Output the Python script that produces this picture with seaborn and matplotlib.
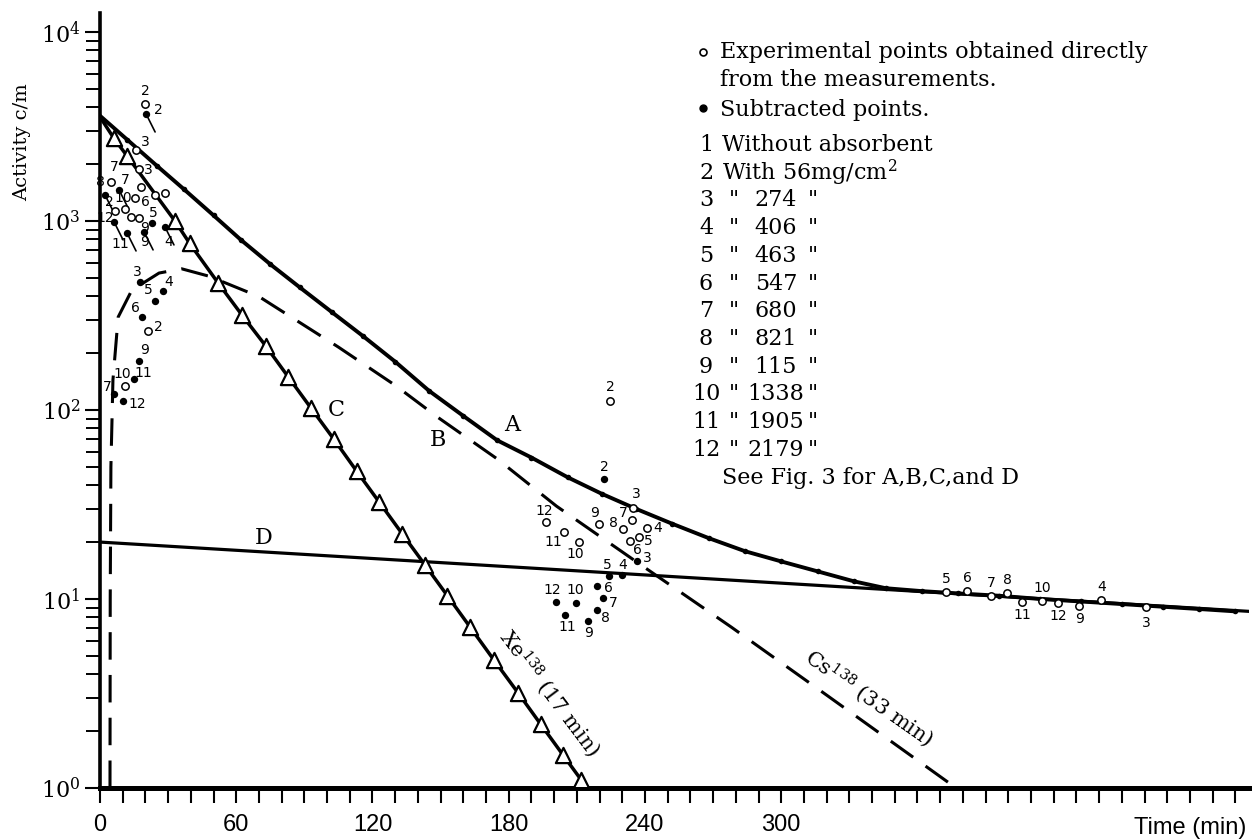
import matplotlib
matplotlib.use("Agg")
import numpy as np
import pandas as pd
import matplotlib.pyplot as plt
import seaborn as sns
from matplotlib.ticker import FixedLocator, FixedFormatter, NullFormatter

sns.set_theme(style="ticks")
plt.rcParams['font.family'] = ['DejaVu Serif']
plt.rcParams['mathtext.fontset'] = 'dejavuserif'
for key in ['text.color', 'axes.edgecolor', 'xtick.color', 'ytick.color',
            'axes.labelcolor', 'xtick.labelcolor', 'ytick.labelcolor']:
    plt.rcParams[key] = 'black'

# ---------------- data ----------------
# curve A : total activity (solid, with measured points)
A_t = [0, 12, 25, 37, 50, 62, 75, 88, 102, 116, 130, 145, 160, 175, 190, 206, 221,
       236, 252, 268, 284, 300, 316, 332, 346, 362, 378, 396, 414, 432, 450, 468, 484, 500]
A_v = [3600, 2690, 1960, 1470, 1070, 795, 590, 445, 330, 245, 180, 126, 93, 69, 56, 44, 36,
       30, 25, 21, 17.9, 15.8, 14.0, 12.4, 11.4, 11.0, 10.7, 10.4, 10.0, 9.7, 9.4, 9.1, 8.85, 8.6]

# curve B : Cs138 (33 min), dashed
B_t = [4.4, 4.5, 4.8, 5.7, 8, 14, 26, 36, 48, 70, 105, 130, 149, 175, 201, 237, 278, 320, 377]
B_v = [1.0, 10, 50, 144, 310, 430, 530, 558, 510, 398, 215, 135, 91, 55, 31, 15.5, 7.1, 3.1, 1.0]

# curve C : Xe138 (17 min), line start + triangles
C_t = [0, 6, 12, 33, 39.5, 52, 62.5, 73, 83, 93, 103, 113, 123, 133, 143, 153, 163,
       173.5, 184, 194, 204, 212]
C_v = [3550, 2750, 2200, 1000, 760, 470, 318, 218, 149, 102, 70, 47.5, 32.5, 22.2, 15.2,
       10.4, 7.1, 4.75, 3.2, 2.18, 1.49, 1.1]

# curve D : long-lived background
D_t = [0, 506]
D_v = [20, 8.6]

# experimental points obtained directly (open circles)
open_t = [19.8, 15.9, 17.2, 4.8, 18.1, 24.2, 28.6, 15.4, 6.6, 11.0, 13.7, 17.2, 21.1, 11.0,
          224.7, 234.8, 196.5, 219.8, 234.4, 230.4, 241.0, 204.4, 211.0, 237.4, 233.5,
          372.7, 381.9, 392.5, 399.6, 406.2, 415.0, 422.0, 431.3, 441.0, 460.8]
open_v = [4160, 2375, 1884, 1608, 1513, 1373, 1407, 1324, 1129, 1156, 1050, 1038, 262, 134,
          112, 30.3, 25.5, 24.9, 26.2, 23.5, 23.8, 22.6, 20.0, 21.3, 20.3,
          10.9, 11.0, 10.4, 10.8, 9.6, 9.75, 9.5, 9.2, 9.9, 9.1]
open_lab = ["2", "3", "3", "8", "", "", "", "10", "12", "", "", "5", "2", "10",
            "2", "3", "12", "9", "7", "8", "4", "11", "10", "5", "6",
            "5", "6", "7", "8", "11", "10", "12", "9", "4", "3"]

# subtracted points (filled dots)
fill_t = [20.3, 8.4, 2.2, 6.2, 22.9, 28.6, 11.9, 19.4,
          17.6, 27.8, 24.2, 18.5, 17.2, 15.0, 6.2, 10.1,
          222.0, 236.3, 224.2, 230.0, 200.9, 209.7, 219.0, 221.6, 219.0, 204.8, 215.0]
fill_v = [3681, 1459, 1373, 988, 976, 930, 864, 875,
          476, 426, 378, 310, 182, 146, 122, 112,
          43.1, 15.9, 13.2, 13.4, 9.6, 9.5, 11.7, 10.1, 8.7, 8.2, 7.65]
fill_lab = ["2", "7", "2", "", "9", "4", "11", "9",
            "3", "4", "5", "6", "9", "11", "7", "12",
            "2", "3", "5", "4", "12", "10", "6", "7", "8", "11", "9"]

# legend content
absorber_id = ["1", "2", "3", "4", "5", "6", "7", "8", "9", "10", "11", "12"]
absorber_txt = ["Without absorbent", "With 56mg/cm$^2$", "274", "406", "463", "547",
                "680", "821", "115", "1338", "1905", "2179"]
x_ticklabels = ["0", "60", "120", "180", "240", "300"]

# ---------------- styling helpers (offsets in pixels) ----------------
open_off = [(0, 13), (9, 8), (9, -1), (-10, 0), (0, 0), (0, 0), (0, 0), (-12, 0), (-10, -7),
            (0, 0), (0, 0), (14, 5), (10, 4), (-3, 12),
            (0, 14), (3, 14), (-2, 11), (-5, 11), (-9, 7), (-10, 6), (10, 0), (-11, -10),
            (-4, -12), (9, -4), (7, -9),
            (0, 13), (0, 13), (0, 13), (0, 13), (0, -13), (0, 13), (0, -13), (0, -13),
            (0, 13), (0, -16)]
fill_off = [(12, 4), (6, 10), (4, -7), (0, 0), (-7, -5), (4, -15), (-7, -11), (1, -10),
            (-3, 10), (6, 9), (-7, 11), (-7, 9), (6, 11), (9, 6), (-7, 7), (14, -3),
            (0, 12), (11, 3), (-2, 11), (0, 10), (-4, 12), (-1, 13), (11, -2), (10, -5),
            (8, -8), (2, -12), (0, -12)]
fill_tail = [0, 1, 2, 3, 5, 6, 7]

W, H = 1252, 839
def fx(px): return px / W
def fy(py): return 1 - py / H

fig = plt.figure(figsize=(12.52, 8.39), dpi=100)
ax = fig.add_axes([fx(100), fy(788), fx(1249) - fx(100), fy(13) - fy(788)])
ax.set_yscale('log')

dfA = pd.DataFrame({'t': A_t, 'v': A_v})
dfB = pd.DataFrame({'t': B_t, 'v': B_v})
dfC = pd.DataFrame({'t': C_t, 'v': C_v})
dfD = pd.DataFrame({'t': D_t, 'v': D_v})
dfO = pd.DataFrame({'t': open_t, 'v': open_v})
dfF = pd.DataFrame({'t': fill_t, 'v': fill_v})

sns.lineplot(data=dfD, x='t', y='v', ax=ax, color='black', linewidth=2.3,
             estimator=None, sort=False)
sns.lineplot(data=dfA, x='t', y='v', ax=ax, color='black', linewidth=2.8,
             estimator=None, sort=False)
sns.scatterplot(data=dfA.iloc[1:], x='t', y='v', ax=ax, color='black', s=16,
                linewidth=0, zorder=4)
sns.lineplot(data=dfB, x='t', y='v', ax=ax, color='black', linewidth=2.2,
             estimator=None, sort=False)
ax.get_lines()[-1].set_linestyle((0, (9, 5)))
sns.lineplot(data=dfC, x='t', y='v', ax=ax, color='black', linewidth=2.5,
             estimator=None, sort=False)
sns.scatterplot(data=dfC.iloc[1:], x='t', y='v', ax=ax, marker='^', s=120,
                color='white', edgecolor='black', linewidth=1.6, zorder=5)

sns.scatterplot(data=dfO, x='t', y='v', ax=ax, marker='o', s=28, color='white',
                edgecolor='black', linewidth=1.1, zorder=6)
sns.scatterplot(data=dfF, x='t', y='v', ax=ax, marker='o', s=28, color='black',
                linewidth=0, zorder=6)

lab_font = dict(fontsize=10, family='DejaVu Sans', ha='center', va='center')
for t, v, s, (dx, dy) in zip(open_t, open_v, open_lab, open_off):
    if s:
        ax.annotate(s, xy=(t, v), xytext=(dx, dy), textcoords='offset pixels', **lab_font)
for t, v, s, (dx, dy) in zip(fill_t, fill_v, fill_lab, fill_off):
    if s:
        ax.annotate(s, xy=(t, v), xytext=(dx, dy), textcoords='offset pixels', **lab_font)
for i in fill_tail:
    ax.annotate('', xy=(fill_t[i], fill_v[i]), xytext=(9, -18), textcoords='offset pixels',
                arrowprops=dict(arrowstyle='-', color='black', lw=1.2, shrinkA=0, shrinkB=0))

# extra labels of the top-left cluster
ax.annotate("7", xy=(open_t[3], open_v[3]), xytext=(3, 15), textcoords='offset pixels', **lab_font)
ax.annotate("6", xy=(open_t[7], open_v[7]), xytext=(10, -4), textcoords='offset pixels', **lab_font)

# curve labels
ax.text(181.5, 83, 'A', fontsize=16, ha='center', va='center')
ax.text(149, 69, 'B', fontsize=16, ha='center', va='center')
ax.text(104, 100, 'C', fontsize=16, ha='center', va='center')
ax.text(72, 21, 'D', fontsize=16, ha='center', va='center')
ax.text(198, 3.2, "Xe$^{138}$ (17 min)", rotation=-53, rotation_mode='anchor',
        ha='center', va='center', fontsize=15)
ax.text(339, 3.0, "Cs$^{138}$ (33 min)", rotation=-35, rotation_mode='anchor',
        ha='center', va='center', fontsize=15)

# axes
ax.set_xlim(0, 506)
ax.set_ylim(1, 10 ** 4.1)
ax.set_xlabel('')
ax.set_ylabel('')
for side in ['top', 'right']:
    ax.spines[side].set_visible(False)
ax.spines['left'].set_linewidth(2.6)
ax.spines['bottom'].set_linewidth(3.6)
ax.spines['left'].set_color('black')
ax.spines['bottom'].set_color('black')

xt = np.arange(0, 501, 10)
ax.xaxis.set_major_locator(FixedLocator(xt))
xl = [''] * len(xt)
for i, s in enumerate(x_ticklabels):
    xl[i * 6] = s
ax.xaxis.set_major_formatter(FixedFormatter(xl))
ax.tick_params(axis='x', direction='out', length=11, width=1.5, pad=8, labelsize=17,
               colors='black')
for lab in ax.get_xticklabels():
    lab.set_family(['Liberation Sans', 'DejaVu Sans'])

yt = [1, 10, 100, 1000, 10000]
ax.yaxis.set_major_locator(FixedLocator(yt))
ax.yaxis.set_major_formatter(FixedFormatter(["$10^{%d}$" % k for k in range(5)]))
minor = [m * 10 ** k for k in range(4) for m in range(2, 10)]
ax.yaxis.set_minor_locator(FixedLocator(minor))
ax.yaxis.set_minor_formatter(NullFormatter())
ax.tick_params(axis='y', which='major', direction='out', length=11, width=1.5, pad=3,
               labelsize=16, colors='black')
ax.tick_params(axis='y', which='minor', direction='out', length=10, width=1.4,
               colors='black')
ax.grid(False)

fig.text(fx(22), fy(142), "Activity c/m", rotation=90, ha='center', va='center', fontsize=14)
fig.text(fx(1190), fy(828), "Time (min)", ha='center', va='center', fontsize=17,
         family=['Liberation Sans', 'DejaVu Sans'])

# legend block
lg = dict(fontsize=16, va='center')
ax.plot([fx(703)], [fy(52)], marker='o', ms=5, mfc='white', mec='black', mew=1.2,
        transform=fig.transFigure, clip_on=False)
fig.text(fx(720), fy(52), "Experimental points obtained directly", ha='left', **lg)
fig.text(fx(720), fy(80), "from the measurements.", ha='left', **lg)
ax.plot([fx(703)], [fy(108)], marker='o', ms=5, color='black',
        transform=fig.transFigure, clip_on=False)
fig.text(fx(720), fy(110), "Subtracted points.", ha='left', **lg)
for i, (n, s) in enumerate(zip(absorber_id, absorber_txt)):
    yy = fy(145 + 27.7 * i)
    fig.text(fx(706), yy, n, ha='center', **lg)
    if i < 2:
        fig.text(fx(722), yy, s, ha='left', **lg)
    else:
        fig.text(fx(734), yy, '"', ha='center', **lg)
        fig.text(fx(776), yy, s, ha='center', **lg)
        fig.text(fx(813), yy, '"', ha='center', **lg)
fig.text(fx(722), fy(478), "See Fig. 3 for A,B,C,and D", ha='left', **lg)

fig.savefig("out.png", dpi=100)
